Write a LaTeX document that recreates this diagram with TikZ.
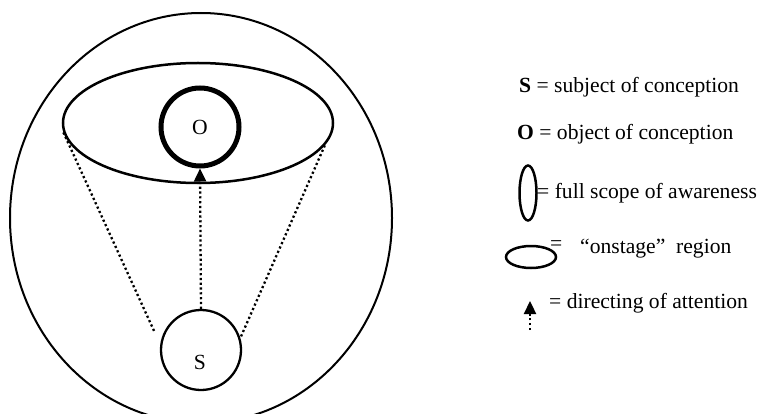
\documentclass[tikz,border=0pt]{standalone}
\usepackage{fontspec}
\setmainfont{Liberation Serif}
\usetikzlibrary{arrows.meta, positioning, shapes.geometric}
\tikzset{
    scope/.style={ellipse, draw=black, line width=2pt, inner sep=0pt},
    stage/.style={ellipse, draw=black, line width=2.5pt, inner sep=0pt},
    objc/.style={circle, draw=black, line width=5pt, minimum size=78pt, inner sep=0pt},
    subj/.style={circle, draw=black, line width=2.3pt, minimum size=80pt, inner sep=0pt},
    ray/.style={line width=2.3pt, dash pattern=on 2.2pt off 2.6pt},
    attn/.style={ray, -{Triangle[width=12pt, length=13pt]}},
    legend/.style={anchor=base west, inner sep=0pt}
}
\begin{document}
\begin{tikzpicture}[x=1pt, y=-1pt, font=\fontsize{21.6}{25}\selectfont]
    \useasboundingbox (0,0) rectangle (759,414);

    % Diagrama: alcance total, region en escena, objeto y sujeto
    \node[scope, minimum width=382pt, minimum height=410pt] (aware) at (201,218) {};
    \node[stage, minimum width=270pt, minimum height=120pt] (onstage) at (198,123) {};
    \node[objc] (O) at (200,127) {O};
    \node[subj] (S) at (201,350) {};
    \node[inner sep=0pt] (Slbl) at (200,362) {S};
    \coordinate (lend) at (155,333);

    % Lineas punteadas y direccion de la atencion
    \draw[ray] (onstage.184) -- (lend);
    \draw[ray] (onstage.-10) -- (S.17);
    \draw[attn] (S.north) -- (O.south);

    % Leyenda
    \node[legend] (lS) at (519,93) {\textbf{S} = subject of conception};
    \node[legend] (lO) at (517,140) {\textbf{O} = object of conception};
    \node[ellipse, draw=black, line width=2.5pt, inner sep=0pt, minimum width=17pt, minimum height=55pt] (vert) at (528,193) {};
    \node[legend] (lscope) at (537,198) {= full scope of awareness};
    \node[ellipse, draw=black, line width=2.5pt, inner sep=0pt, minimum width=50pt, minimum height=22pt] (horiz) at (531,257) {};
    \node[legend] (leq) at (550,250) {=};
    \node[legend] (lstage) at (580,253) {“onstage”\ \ region};
    \coordinate (atail) at (530,330);
    \coordinate (ahead) at (530,301);
    \draw[attn] (atail) -- (ahead);
    \node[legend] (lattn) at (549,308) {= directing of attention};
\end{tikzpicture}
\end{document}
